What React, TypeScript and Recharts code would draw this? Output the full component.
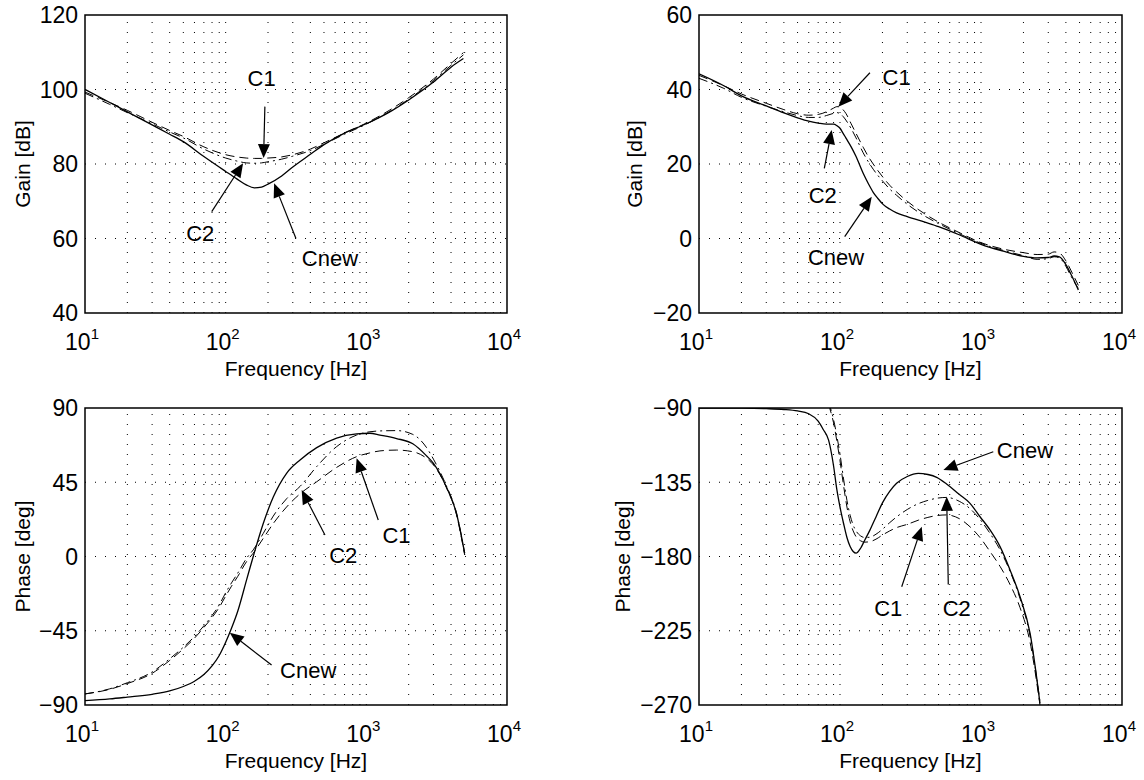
import {
  LineChart,
  Line,
  XAxis,
  YAxis,
  ReferenceLine,
  ReferenceArea,
  ReferenceDot,
} from "recharts";

const FONT = '"Liberation Sans", Arial, Helvetica, sans-serif';

// ---- top left: gain
const gainFreqL = [10, 15, 20, 30, 40, 50, 70, 100, 120, 140, 160, 180, 200, 250, 300, 400, 500, 700, 1000, 1500, 2000, 3000, 4000, 4900];
const gainCnewL = [100, 96.5, 94, 90.5, 88, 86, 82, 78, 76, 74.4, 73.6, 73.8, 74.6, 76.8, 79.2, 82.6, 85.2, 88.3, 90.8, 94.2, 97.2, 102, 106, 108.3];
const gainC1L = [99.3, 96.5, 94.4, 91.2, 89, 87.4, 84.6, 82.5, 81.9, 81.6, 81.5, 81.5, 81.6, 81.9, 82.5, 84, 85.7, 88.3, 91, 94.7, 97.8, 102.8, 107, 109.9];
const gainC2L = [99, 96, 93.8, 90.8, 88.6, 87, 84, 81.6, 80.8, 80.3, 80.2, 80.3, 80.6, 81.3, 82.1, 83.6, 85.3, 88, 90.7, 94.3, 97.4, 102.4, 106.5, 109.3];

// ---- top right: gain
const gainFreqR = [10, 15, 20, 30, 40, 50, 60, 70, 80, 90, 95, 100, 105, 110, 120, 130, 146, 160, 172, 185, 203, 225, 252, 300, 400, 500, 700, 1000, 1500, 2000, 2500, 3000, 3300, 3600, 4000, 4400, 4900];
const gainCnewR = [44.2, 41, 38.3, 35.6, 33.7, 32.4, 31.5, 31, 30.7, 30.7, 30.3, 29.6, 28.3, 27, 24.6, 22, 17.5, 14.5, 12.4, 10.8, 9.1, 7.9, 6.9, 5.9, 4.4, 3.2, 1, -1.6, -3.6, -4.8, -5.2, -5.1, -4.7, -4.9, -7, -10, -13.8];
const gainC1R = [43.8, 41, 38.8, 36.3, 34.6, 33.5, 33.1, 33.3, 34, 35, 35.4, 35.3, 34.6, 33.6, 30.8, 28.2, 24.5, 21.8, 20, 18.3, 16.3, 14.3, 12.5, 10, 6.6, 4.4, 1.6, -1.1, -3, -3.8, -4.3, -4.2, -3.6, -3.9, -6, -9, -12.6];
const gainC2R = [43, 40.3, 37.9, 35.5, 34, 33, 32.5, 32.5, 33, 33.6, 33.8, 33.5, 32.8, 31.8, 29.5, 27, 23, 20.4, 18.6, 17, 15.2, 13.3, 11.6, 9.2, 6, 4, 1.3, -1.3, -3.4, -4.6, -5.6, -5.4, -4.9, -5.2, -7.5, -10.5, -13.4];

// ---- bottom left: phase
const phaseFreqL = [10, 15, 20, 30, 40, 50, 60, 70, 80, 90, 100, 110, 122, 141, 157, 185, 218, 271, 338, 444, 615, 853, 1060, 1250, 1640, 2140, 2680, 3000, 3700, 4370, 5000];
const phaseCnewL = [-87.3, -86.3, -85.2, -83.5, -81.5, -78.8, -75.6, -71.5, -66.3, -60, -52, -43.5, -33, -14, 0, 20, 36, 50.4, 58.5, 66, 71.8, 74.3, 74.7, 73.6, 71.5, 68.3, 61, 56.5, 42.3, 26.2, 2];
const phaseC1L = [-83.3, -80.5, -77, -70.8, -63, -56, -49.5, -43, -37, -30.8, -24, -18, -12, -3, 2, 11, 20, 30, 38, 45.3, 54, 60.5, 62.8, 64, 64.5, 63.5, 59.5, 55.5, 42, 25.5, 1];
const phaseC2L = [-83.3, -80.2, -76.5, -70, -62, -55, -48.5, -42, -35.8, -29.3, -22, -16, -10, -1, 4, 14, 24.5, 35, 42.5, 54.5, 66.6, 73.6, 75.6, 76.1, 76.3, 74, 66, 59, 43, 26.5, 2];

// ---- bottom right: phase (C1, C2 come in from above the plot)
const phaseFreqR = [10, 20, 30, 40, 50, 60, 70, 76, 83, 90, 95, 100, 106, 112, 118, 124, 130, 140, 150, 163, 180, 200, 225, 252, 300, 359, 420, 485, 570, 700, 836, 984, 1159, 1365, 1607, 1892, 2228, 2620];
const phaseCnewR = [-90, -90.1, -90.4, -90.9, -91.8, -93.5, -98, -103, -109.5, -125, -139.5, -150, -160, -168.5, -174, -177, -178, -175, -170, -164, -156, -147.5, -140.5, -135.6, -131.5, -129.6, -130.3, -132, -136, -142.3, -147.8, -155.9, -163.9, -174, -188.2, -204.4, -226.5, -269];
const phaseC1R = [null, null, null, null, null, null, null, null, -88, -99, -110, -122, -137, -150, -159, -164.5, -168, -170.5, -171.3, -171, -169.5, -167, -164.5, -162.5, -160.5, -158, -156.3, -155.2, -154.8, -157, -162, -168.5, -177, -186, -197, -211, -232, -270];
const phaseC2R = [null, null, null, null, null, null, null, null, -86.5, -97, -107, -118, -133, -146, -155, -161, -164.5, -167.5, -168.5, -168.3, -166.5, -163.5, -159.5, -156, -151.5, -148, -146, -144.7, -144.2, -146.5, -151, -157.5, -166, -176, -189, -205.5, -228, -268];

const decades = [10, 100, 1000, 10000];
const minorFreqs = [20, 30, 40, 50, 60, 70, 80, 90, 100, 200, 300, 400, 500, 600, 700, 800, 900, 1000, 2000, 3000, 4000, 5000, 6000, 7000, 8000, 9000];

// annotation: text at (tx, ty), arrow from (ax, ay) to tip (bx, by), data units
const notesGainL = [
  { label: "C1", tx: 180, ty: 103, ax: 190, ay: 95.4, bx: 186, by: 81.6 },
  { label: "C2", tx: 66, ty: 61.4, ax: 79.6, ay: 67.2, bx: 133, by: 80.2 },
  { label: "Cnew", tx: 551, ty: 54.7, ax: 316, ay: 60, bx: 221, by: 74.8 },
];
const notesGainR = [
  { label: "C1", tx: 252, ty: 43.4, ax: 163, ay: 44.5, bx: 97.3, by: 35.4 },
  { label: "C2", tx: 75.4, ty: 11.7, ax: 77.4, ay: 18.8, bx: 87.3, by: 29.1 },
  { label: "Cnew", tx: 93.8, ty: -4.9, ax: 108, ay: 0.5, bx: 168, by: 11.2 },
];
const notesPhaseL = [
  { label: "Cnew", tx: 386, ty: -68.8, ax: 212, ay: -65.8, bx: 107, by: -46.2 },
  { label: "C2", tx: 686, ty: 0.9, ax: 508, ay: 13, bx: 347, by: 40.3 },
  { label: "C1", tx: 1640, ty: 13, ax: 1216, ay: 22.1, bx: 853, by: 59.5 },
];
const notesPhaseR = [
  { label: "C1", tx: 220, ty: -211.4, ax: 274, ay: -198.3, bx: 380, by: -161.9 },
  { label: "C2", tx: 673, ty: -211.4, ax: 586, ay: -197, bx: 571, by: -143.8 },
  { label: "Cnew", tx: 2051, ty: -115.5, ax: 1222, ay: -116.5, bx: 541, by: -127.6 },
];

type Note = { label: string; tx: number; ty: number; ax: number; ay: number; bx: number; by: number };

const toRows = (f: number[], cnew: (number | null)[], c1: (number | null)[], c2: (number | null)[]) =>
  f.map((v, i) => ({ f: v, cnew: cnew[i], c1: c1[i], c2: c2[i] }));

const fmtTick = (v: number) => (v < 0 ? "\u2212" + Math.abs(v) : String(v));

function DecadeTick(props: any) {
  const { x, y, payload } = props;
  const exp = Math.round(Math.log10(payload.value));
  return (
    <text x={x - 3} y={y + 37} textAnchor="middle" fontSize={23} fontFamily={FONT} fill="#000">
      10
      <tspan dy={-11} fontSize={15}>
        {exp}
      </tspan>
    </text>
  );
}

function ValueTick(props: any) {
  const { x, y, payload } = props;
  return (
    <text x={x} y={y} dy="0.36em" textAnchor="end" fontSize={23} fontFamily={FONT} fill="#000">
      {fmtTick(payload.value)}
    </text>
  );
}

function arrowShape(props: any) {
  const { x1, y1, x2, y2 } = props;
  const dx = x2 - x1;
  const dy = y2 - y1;
  const len = Math.sqrt(dx * dx + dy * dy) || 1;
  const ux = dx / len;
  const uy = dy / len;
  const hl = 14;
  const hw = 6;
  const bx = x2 - ux * hl;
  const by = y2 - uy * hl;
  const pts = `${x2},${y2} ${bx - uy * hw},${by + ux * hw} ${bx + uy * hw},${by - ux * hw}`;
  return (
    <g>
      <line x1={x1} y1={y1} x2={bx} y2={by} stroke="#000" strokeWidth={1.2} />
      <polygon points={pts} fill="#000" />
    </g>
  );
}

const noteText = (label: string) => (props: any) =>
  (
    <text x={props.cx} y={props.cy} dy="0.36em" textAnchor="middle" fontSize={22} fontFamily={FONT} fill="#000">
      {label}
    </text>
  );

interface PanelProps {
  left: number;
  top: number;
  margin: { top: number; right: number; bottom: number; left: number };
  yWidth: number;
  yDomain: [number, number];
  yTicks: number[];
  yLabel: string;
  yLabelX: number;
  rows: any[];
  notes: Note[];
}

function Panel({ left, top, margin, yWidth, yDomain, yTicks, yLabel, yLabelX, rows, notes }: PanelProps) {
  return (
    <div style={{ position: "absolute", left, top }}>
      <LineChart width={572} height={390} data={rows} margin={margin}>
        <XAxis
          dataKey="f"
          type="number"
          scale="log"
          domain={[10, 10000]}
          ticks={decades}
          interval={0}
          allowDataOverflow
          axisLine={false}
          tickLine={false}
          tickSize={0}
          tickMargin={0}
          height={60}
          tick={(p: any) => <DecadeTick {...p} />}
          label={{
            content: (p: any) => (
              <text
                x={p.viewBox.x + p.viewBox.width / 2}
                y={p.viewBox.y + 63}
                textAnchor="middle"
                fontSize={21}
                fontFamily={FONT}
                fill="#000"
              >
                Frequency [Hz]
              </text>
            ),
          }}
        />
        <YAxis
          type="number"
          domain={yDomain}
          ticks={yTicks}
          interval={0}
          allowDataOverflow
          width={yWidth}
          axisLine={false}
          tickLine={false}
          tickSize={0}
          tickMargin={7}
          tick={(p: any) => <ValueTick {...p} />}
          label={{
            content: (p: any) => {
              const cy = p.viewBox.y + p.viewBox.height / 2;
              return (
                <text
                  x={yLabelX}
                  y={cy}
                  dy="0.36em"
                  transform={`rotate(-90, ${yLabelX}, ${cy})`}
                  textAnchor="middle"
                  fontSize={21}
                  fontFamily={FONT}
                  fill="#000"
                >
                  {yLabel}
                </text>
              );
            },
          }}
        />
        {minorFreqs.map((f) => (
          <ReferenceLine key={"v" + f} x={f} stroke="#000" strokeWidth={1} strokeDasharray="1 9" />
        ))}
        {yTicks.slice(1, -1).map((v) => (
          <ReferenceLine key={"h" + v} y={v} stroke="#000" strokeWidth={1} strokeDasharray="1 9" />
        ))}
        <ReferenceArea
          x1={10}
          x2={10000}
          y1={yDomain[0]}
          y2={yDomain[1]}
          fill="none"
          fillOpacity={0}
          stroke="#000"
          strokeWidth={1.5}
          ifOverflow="visible"
        />
        <Line
          type="monotone"
          dataKey="c1"
          stroke="#000"
          strokeWidth={1}
          strokeDasharray="9 5"
          dot={false}
          isAnimationActive={false}
        />
        <Line
          type="monotone"
          dataKey="c2"
          stroke="#000"
          strokeWidth={1}
          strokeDasharray="9 4 2 4"
          dot={false}
          isAnimationActive={false}
        />
        <Line
          type="monotone"
          dataKey="cnew"
          stroke="#000"
          strokeWidth={1.3}
          dot={false}
          isAnimationActive={false}
        />
        {notes.map((n) => (
          <ReferenceLine
            key={"a" + n.label}
            segment={[
              { x: n.ax, y: n.ay },
              { x: n.bx, y: n.by },
            ]}
            ifOverflow="visible"
            shape={arrowShape}
          />
        ))}
        {notes.map((n) => (
          <ReferenceDot
            key={"t" + n.label}
            x={n.tx}
            y={n.ty}
            r={0}
            ifOverflow="visible"
            shape={noteText(n.label)}
          />
        ))}
      </LineChart>
    </div>
  );
}

export default function App() {
  return (
    <div style={{ position: "absolute", left: 0, top: 0, width: 1144, height: 780, background: "#fff" }}>
      <Panel
        left={0}
        top={0}
        margin={{ top: 15, right: 65, bottom: 17, left: 0 }}
        yWidth={85}
        yDomain={[40, 120]}
        yTicks={[40, 60, 80, 100, 120]}
        yLabel="Gain [dB]"
        yLabelX={22}
        rows={toRows(gainFreqL, gainCnewL, gainC1L, gainC2L)}
        notes={notesGainL}
      />
      <Panel
        left={572}
        top={0}
        margin={{ top: 15, right: 22, bottom: 17, left: 0 }}
        yWidth={127}
        yDomain={[-20, 60]}
        yTicks={[-20, 0, 20, 40, 60]}
        yLabel="Gain [dB]"
        yLabelX={62}
        rows={toRows(gainFreqR, gainCnewR, gainC1R, gainC2R)}
        notes={notesGainR}
      />
      <Panel
        left={0}
        top={390}
        margin={{ top: 18, right: 65, bottom: 15, left: 0 }}
        yWidth={85}
        yDomain={[-90, 90]}
        yTicks={[-90, -45, 0, 45, 90]}
        yLabel="Phase [deg]"
        yLabelX={22}
        rows={toRows(phaseFreqL, phaseCnewL, phaseC1L, phaseC2L)}
        notes={notesPhaseL}
      />
      <Panel
        left={572}
        top={390}
        margin={{ top: 18, right: 22, bottom: 15, left: 0 }}
        yWidth={127}
        yDomain={[-270, -90]}
        yTicks={[-270, -225, -180, -135, -90]}
        yLabel="Phase [deg]"
        yLabelX={50}
        rows={toRows(phaseFreqR, phaseCnewR, phaseC1R, phaseC2R)}
        notes={notesPhaseR}
      />
    </div>
  );
}
